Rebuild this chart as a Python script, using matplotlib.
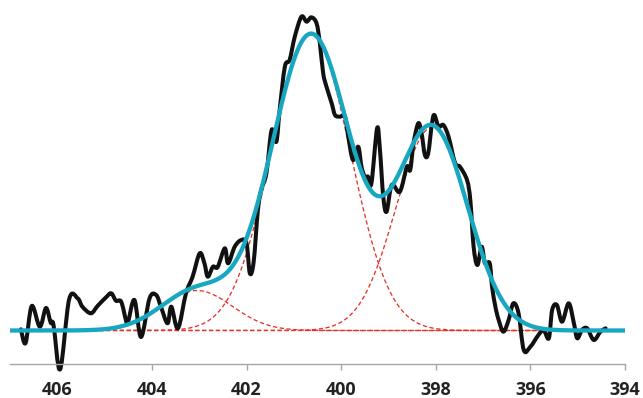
import numpy as np
import matplotlib
matplotlib.use("Agg")
import matplotlib.pyplot as plt
from matplotlib.path import Path
from matplotlib.patches import PathPatch

# Raw spectrum (binding energy, eV ; intensity, a.u.)
energy = [406.77, 406.67, 406.54, 406.37, 406.24, 406.14, 406.08, 405.94, 405.75, 405.57,
          405.47, 405.29, 405.15, 404.97, 404.86, 404.76, 404.65, 404.55, 404.51, 404.37,
          404.23, 404.05, 403.91, 403.81, 403.67, 403.59, 403.45, 403.28, 403.14, 402.99,
          402.89, 402.82, 402.71, 402.61, 402.46, 402.39, 402.25, 402.11, 402.00, 401.93,
          401.85, 401.76, 401.69, 401.58, 401.47, 401.37, 401.30, 401.19, 401.09, 400.98,
          400.84, 400.73, 400.63, 400.52, 400.45, 400.38, 400.31, 400.20, 400.13, 400.03,
          399.92, 399.85, 399.75, 399.64, 399.57, 399.50, 399.43, 399.36, 399.24, 399.18,
          399.11, 399.04, 398.93, 398.76, 398.61, 398.54, 398.47, 398.37, 398.30, 398.23,
          398.16, 398.08, 398.03, 397.94, 397.84, 397.73, 397.59, 397.49, 397.34, 397.27,
          397.20, 397.12, 397.03, 396.96, 396.86, 396.81, 396.74, 396.67, 396.57, 396.46,
          396.36, 396.25, 396.14, 396.00, 395.83, 395.72, 395.61, 395.54, 395.44, 395.33,
          395.19, 395.08, 395.01, 394.91, 394.80, 394.66, 394.52, 394.41]
intensity = [1.2, -12.5, 24.5, 3.8, 22.5, 7.8, 5.5, -38.8, 31.2, 32.2,
             23.8, 17.2, 24.5, 33.2, 37.2, 29.8, 28.8, 10.5, 7.5, 30.5,
             -6.5, 32.2, 35.5, 23.8, 7.2, 23.8, 2.2, 37.2, 53.8, 77.2,
             67.2, 53.8, 63.8, 63.5, 82.2, 67.2, 83.8, 90.5, 87.2, 57.2,
             68.5, 120.5, 140.5, 157.2, 200.5, 188.8, 220.5, 263.8, 270.5, 293.8,
             313.8, 308.8, 313.2, 307.2, 287.2, 257.2, 243.8, 227.2, 215.5, 213.8,
             213.8, 193.8, 170.5, 183.8, 163.8, 153.8, 153.8, 147.2, 202.2, 180.5,
             133.8, 118.8, 145.5, 138.8, 163.8, 160.5, 187.2, 207.2, 197.2, 175.5,
             177.2, 207.2, 215.5, 203.8, 205.5, 193.8, 167.2, 163.8, 150.5, 130.5,
             83.8, 65.5, 83.8, 67.2, 67.2, 43.8, 23.8, 10.5, -1.2, 10.5,
             27.2, 17.2, -19.5, -16.2, -4.5, 0.5, -7.8, 20.5, 25.5, 8.8,
             27.2, 7.2, -7.8, 0.5, 2.2, -9.5, -1.2, 2.2]

# Fitted components (Gaussian): centre (eV), height, sigma (eV)
peak_centres = [403.05, 400.64, 398.08]
peak_heights = [40.0, 296.0, 203.0]
peak_sigmas = [0.75, 0.83, 0.76]
baseline_level = 0.0

tick_values = [406, 404, 402, 400, 398, 396, 394]


def smooth_path(xs, ys, k=1 / 6):
    """Smoothed-line path (cubic Bezier through every data point)."""
    p = np.column_stack([xs, ys]).astype(float)
    n = len(p)
    verts = [p[0]]
    codes = [Path.MOVETO]
    for i in range(n - 1):
        p0 = p[i - 1] if i > 0 else p[i]
        p1, p2 = p[i], p[i + 1]
        p3 = p[i + 2] if i + 2 < n else p[i + 1]
        c1 = p1 + (p2 - p0) * k
        c2 = p2 - (p3 - p1) * k
        verts += [c1, c2, p2]
        codes += [Path.CURVE4] * 3
    return Path(np.array(verts), codes)


fig = plt.figure(figsize=(6.43, 3.98), dpi=100)
ax = fig.add_axes([10 / 643, 34 / 398, 615 / 643, 364 / 398])

grid = np.linspace(407.0, 394.0, 1300)
components = [h * np.exp(-(grid - c) ** 2 / (2 * s ** 2))
              for c, h, s in zip(peak_centres, peak_heights, peak_sigmas)]
fit = baseline_level + sum(components)

red = '#e5332a'
for comp in components:
    ax.plot(grid, comp + baseline_level, color=red, lw=0.95, ls=(0, (3.2, 2.0)), zorder=1)
ax.plot(grid, np.full_like(grid, baseline_level), color=red, lw=0.95, ls=(0, (3.2, 2.0)), zorder=1)

raw_patch = PathPatch(smooth_path(energy, intensity), facecolor='none', edgecolor='#111111',
                      lw=2.9, joinstyle='round', capstyle='round', zorder=2, clip_on=False)
ax.add_patch(raw_patch)
ax.plot(grid, fit, color='#17a7c1', lw=3.1, solid_capstyle='butt', zorder=3)

ax.set_xlim(407.0, 394.0)
ax.set_ylim(-33.5, 330.5)
for s in ['top', 'left', 'right']:
    ax.spines[s].set_visible(False)
ax.spines['bottom'].set_color('#a6a6a6')
ax.spines['bottom'].set_linewidth(1.0)
ax.set_yticks([])
ax.set_xticks(tick_values)
ax.set_xticklabels([str(t) for t in tick_values])
ax.tick_params(axis='x', direction='out', length=4, width=1.0, color='#a6a6a6',
               pad=8, labelsize=13, labelcolor='#222222')
for lab in ax.get_xticklabels():
    lab.set_fontfamily('Open Sans')
    lab.set_fontweight('bold')
ax.patch.set_visible(False)

fig.savefig('out.png', dpi=100)
